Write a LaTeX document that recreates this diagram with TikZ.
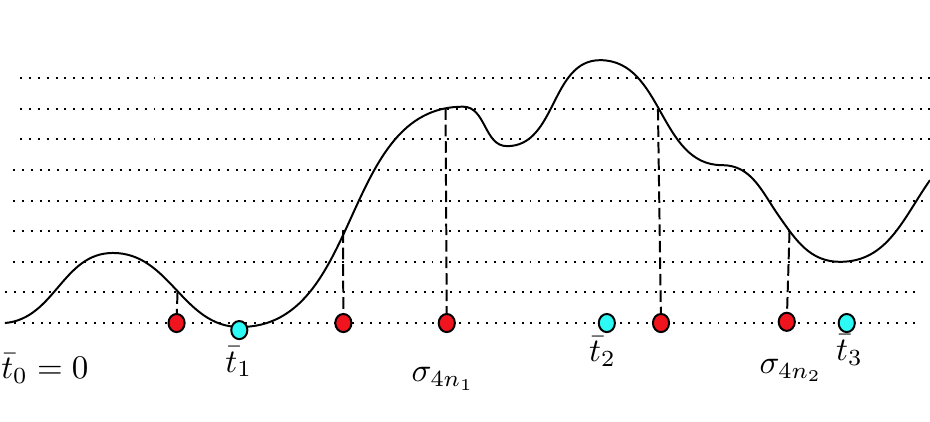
\documentclass[tikz,border=0pt]{standalone}
\usetikzlibrary{shapes.geometric}
\definecolor{hitred}{RGB}{240,20,30}
\definecolor{hitcyan}{RGB}{45,250,245}
\tikzset{level/.style={line width=0.6pt, dash pattern=on 0.6pt off 2.1pt}}
\tikzset{drop/.style={line width=0.6pt, dash pattern=on 3.5pt off 1.5pt}}
\tikzset{stopdot/.style={ellipse, draw, line width=0.6pt, fill=hitred, minimum width=4.9pt, minimum height=5.5pt, inner sep=0pt}}
\tikzset{tbar/.style={stopdot, fill=hitcyan}}

\begin{document}
\begin{tikzpicture}[x=0.326cm, y=0.326cm]
	\useasboundingbox (0,-3.203) rectangle (30.39,10.556);
	
	\foreach \k in {0,1} \draw[level] (0.16,\k) -- (29.9,\k);
	\foreach \k in {2,...,5} \draw[level] (0.42,\k) -- (30.39,\k);
	\foreach \k in {6,7,8} \draw[level] (0.65,\k) -- (30.39,\k);
	
	% the path
	\draw[line width=0.6pt] (0.16,0) to[out=5,in=180] (3.69,2.29)
		to[out=0,in=180] (7.84,-0.13)
		to[out=0,in=180] (15.13,7.07)
		to[out=0,in=180] (16.57,5.78)
		to[out=0,in=180] (19.61,8.59)
		to[out=0,in=180] (23.59,5.16)
		to[out=0,in=125] (25.45,3.5)
		to[out=-55,in=180] (27.45,2)
		to[out=0,in=235] (30.39,4.67);
	
	\coordinate (d1) at (5.8,1);
	\coordinate (d2) at (11.21,3);
	\coordinate (d3) at (14.56,7.02);
	\coordinate (d4) at (21.5,7);
	\coordinate (d5) at (25.8,3);
	
	\node[stopdot] (r1) at (5.77,0) {};
	\node[stopdot] (r2) at (11.22,0) {};
	\node[stopdot] (r3) at (14.6,0) {};
	\node[stopdot] (r4) at (21.6,0) {};
	\node[stopdot] (r5) at (25.71,0.04) {};
	
	\draw[drop] (d1) -- (r1);
	\draw[drop] (d2) -- (r2);
	\draw[drop] (d3) -- (r3);
	\draw[drop] (d4) -- (r4);
	\draw[drop] (d5) -- (r5);
	
	\node[tbar] (c1) at (7.82,-0.23) {};
	\node[tbar] (c2) at (19.83,0) {};
	\node[tbar] (c3) at (27.67,0) {};
	
	\node[anchor=base west, inner sep=0pt] (l0) at (0.02,-1.80) {$\bar{t}_0=0$};
	\node[anchor=base, inner sep=0pt] (l1) at (7.8,-1.60) {$\bar{t}_1$};
	\node[anchor=base, inner sep=0pt] (s1) at (14.48,-1.92) {$\sigma_{4n_1}$};
	\node[anchor=base, inner sep=0pt] (l2) at (19.69,-1.27) {$\bar{t}_2$};
	\node[anchor=base, inner sep=0pt] (s2) at (25.85,-1.65) {$\sigma_{4n_2}$};
	\node[anchor=base, inner sep=0pt] (l3) at (27.76,-1.21) {$\bar{t}_3$};
\end{tikzpicture}
\end{document}
